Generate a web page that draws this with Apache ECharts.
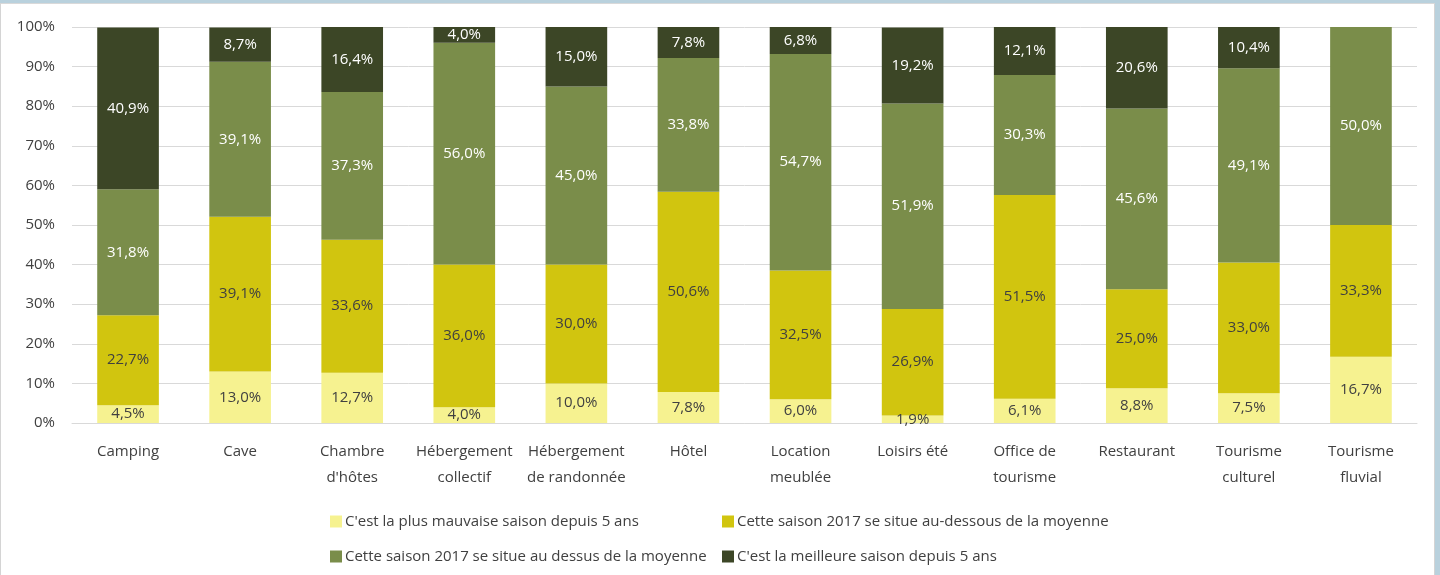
<!DOCTYPE html>
<html>
<head>
<meta charset="utf-8">
<script src="https://cdn.jsdelivr.net/npm/echarts@6/dist/echarts.min.js"></script>
<style>
	html, body { margin: 0; padding: 0; background: #b9d1dd; }
	#frame {
		position: absolute; left: 0; top: 3px; width: 1435px; height: 572px;
		background: #fff; border-left: 1px solid #d4d4d4; border-top: 1px solid #d9d9d9; border-right: 1px solid #d4d4d4;
		box-sizing: border-box;
	}
	#chart { position: absolute; left: 0; top: 0; width: 1440px; height: 575px; }
</style>
</head>
<body>
<div id="frame"></div>
<div id="chart"></div>
<script>
	'use strict'
	var categories = ['Camping', 'Cave', "Chambre\nd'hôtes", 'Hébergement\ncollectif', 'Hébergement\nde randonnée',
		'Hôtel', 'Location\nmeublée', 'Loisirs été', 'Office de\ntourisme', 'Restaurant', 'Tourisme\nculturel', 'Tourisme\nfluvial'];
	var seriesNames = ["C'est la plus mauvaise saison depuis 5 ans", 'Cette saison 2017 se situe au-dessous de la moyenne',
		'Cette saison 2017 se situe au dessus de la moyenne', "C'est la meilleure saison depuis 5 ans"];
	var pire = [4.5, 13.0, 12.7, 4.0, 10.0, 7.8, 6.0, 1.9, 6.1, 8.8, 7.5, 16.7];
	var dessous = [22.7, 39.1, 33.6, 36.0, 30.0, 50.6, 32.5, 26.9, 51.5, 25.0, 33.0, 33.3];
	var dessus = [31.8, 39.1, 37.3, 56.0, 45.0, 33.8, 54.7, 51.9, 30.3, 45.6, 49.1, 50.0];
	var meilleure = [40.9, 8.7, 16.4, 4.0, 15.0, 7.8, 6.8, 19.2, 12.1, 20.6, 10.4, 0];
	var yTicks = [0, 10, 20, 30, 40, 50, 60, 70, 80, 90, 100];

	var font = "'Open Sans', sans-serif";
	var colors = ['#f6f290', '#d1c50f', '#7a8d4a', '#3c4626'];
	var labelColors = ['#404040', '#404040', '#ffffff', '#ffffff'];

	function pct(p) {
		if (!p.value) return '';
		return p.value.toFixed(1).replace('.', ',') + '%';
	}

	var chartdata = [pire, dessous, dessus, meilleure].map(function(d, i) {
		return {
			name: seriesNames[i],
			type: 'bar',
			stack: 'total',
			barWidth: '55%',
			data: d,
			itemStyle: { color: colors[i] },
			label: {
				show: true,
				position: 'inside',
				formatter: pct,
				color: labelColors[i],
				fontFamily: font,
				fontSize: 15
			}
		};
	});

	var legendPos = [[325, 509], [717, 509], [325, 544], [717, 544]];
	var legends = seriesNames.map(function(n, i) {
		return {
			data: [n],
			left: legendPos[i][0],
			top: legendPos[i][1],
			itemWidth: 12,
			itemHeight: 12,
			icon: 'rect',
			textStyle: { fontFamily: font, fontSize: 15, color: '#404040', padding: [0, 0, 0, -2] }
		};
	});

	var chart = echarts.init(document.getElementById('chart'));
	chart.setOption({
		animation: false,
		color: colors,
		grid: { left: 72, right: 23, top: 27, bottom: 152 },
		legend: legends,
		xAxis: {
			type: 'category',
			data: categories,
			axisLine: { lineStyle: { color: '#d9d9d9' } },
			axisTick: { show: false },
			axisLabel: {
				interval: 0,
				fontFamily: font,
				fontSize: 15,
				color: '#404040',
				lineHeight: 26,
				margin: 16
			}
		},
		yAxis: {
			type: 'value',
			min: yTicks[0],
			max: yTicks[yTicks.length - 1],
			interval: 10,
			axisLine: { show: false },
			axisTick: { show: false },
			splitLine: { lineStyle: { color: '#d9d9d9' } },
			axisLabel: {
				fontFamily: font,
				fontSize: 15,
				color: '#404040',
				margin: 17,
				formatter: '{value}%'
			}
		},
		series: chartdata
	});
</script>
</body>
</html>
